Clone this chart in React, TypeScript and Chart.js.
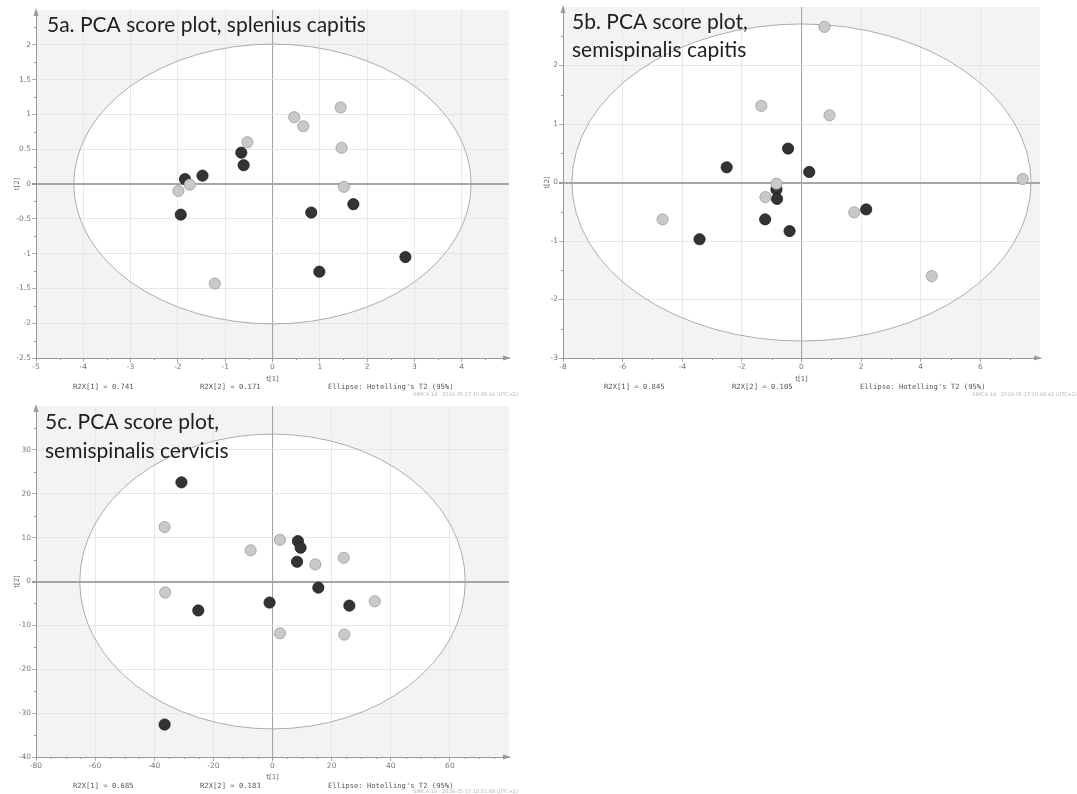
import React, { useEffect, useRef } from "react";
import { Chart, registerables } from "chart.js";
Chart.register(...registerables);

// ---------- 5a. splenius capitis ----------
const aGrayT1 = [1.44, 0.46, 0.65, -0.53, 1.46, 1.51, -1.75, -1.99, -1.22];
const aGrayT2 = [1.1, 0.96, 0.83, 0.6, 0.52, -0.04, -0.01, -0.1, -1.43];
const aDarkT1 = [-0.66, -0.61, -1.48, -1.85, -1.94, 0.82, 1.71, 2.81, 0.99];
const aDarkT2 = [0.45, 0.27, 0.12, 0.07, -0.44, -0.41, -0.29, -1.05, -1.26];
const aEllipse = [4.2, 2.01];
const aXTicks = [-5, 5, 1, 0.5]; // min, max, step, minor
const aYTicks = [-2.5, 2.5, 0.5, 0.25];
const aTitle = ["5a. PCA score plot, splenius capitis"];
const aNotes = ["R2X[1] = 0.741", "R2X[2] = 0.171", "Ellipse: Hotelling's T2 (95%)"];
const aStamp = "SIMCA 14 - 2016-05-17 10:38:16 (UTC+2)";

// ---------- 5b. semispinalis capitis ----------
const bGrayT1 = [0.77, -1.35, 0.94, -0.84, -1.21, -4.66, 1.77, 7.42, 4.37];
const bGrayT2 = [2.66, 1.31, 1.15, -0.02, -0.25, -0.63, -0.51, 0.06, -1.6];
const bDarkT1 = [-0.45, -2.51, 0.26, -0.84, -0.82, -1.22, -0.4, -3.42, 2.17];
const bDarkT2 = [0.58, 0.26, 0.18, -0.12, -0.28, -0.63, -0.83, -0.97, -0.46];
const bEllipse = [7.7, 2.71];
const bXTicks = [-8, 8, 2, 1];
const bYTicks = [-3, 3, 1, 0.5];
const bTitle = ["5b. PCA score plot,", "semispinalis capitis"];
const bNotes = ["R2X[1] = 0.845", "R2X[2] = 0.105", "Ellipse: Hotelling's T2 (95%)"];
const bStamp = "SIMCA 14 - 2016-05-17 10:48:42 (UTC+2)";

// ---------- 5c. semispinalis cervicis ----------
const cGrayT1 = [-36.5, 2.5, -7.4, 24.1, 14.5, -36.3, 34.6, 2.5, 24.3];
const cGrayT2 = [12.4, 9.5, 7.1, 5.4, 3.9, -2.5, -4.5, -11.8, -12.1];
const cDarkT1 = [-30.8, 8.6, 9.5, 8.3, 15.5, -1.0, 26.0, -25.1, -36.5];
const cDarkT2 = [22.6, 9.2, 7.7, 4.5, -1.4, -4.8, -5.5, -6.6, -32.6];
const cEllipse = [65.2, 33.6];
const cXTicks = [-80, 80, 20, 5];
const cYTicks = [-40, 40, 10, 5];
const cTitle = ["5c. PCA score plot,", "semispinalis cervicis"];
const cNotes = ["R2X[1] = 0.685", "R2X[2] = 0.183", "Ellipse: Hotelling's T2 (95%)"];
const cStamp = "SIMCA 14 - 2016-05-17 10:51:48 (UTC+2)";

type Panel = {
  left: number; top: number; w: number; h: number;
  area: { l: number; t: number; r: number; b: number };
  xt: number[]; yt: number[]; ellipse: number[];
  gx: number[]; gy: number[]; dx: number[]; dy: number[];
  title: string[]; titleX: number; titleY: number[];
  notes: string[]; noteX: number[]; noteY: number;
  stamp: string; stampR: number; stampY: number;
  xTitlePad: number; yTitlePad: number;
};

const panels: Panel[] = [
  {
    left: 0, top: 0, w: 537, h: 400, area: { l: 36, t: 10, r: 509, b: 358 },
    xt: aXTicks, yt: aYTicks, ellipse: aEllipse,
    gx: aGrayT1, gy: aGrayT2, dx: aDarkT1, dy: aDarkT2,
    title: aTitle, titleX: 47, titleY: [32],
    notes: aNotes, noteX: [73, 200, 328], noteY: 387,
    stamp: aStamp, stampR: 518, stampY: 395, xTitlePad: 16.5, yTitlePad: 12.5,
  },
  {
    left: 537, top: 0, w: 540, h: 400, area: { l: 26, t: 7, r: 503, b: 358 },
    xt: bXTicks, yt: bYTicks, ellipse: bEllipse,
    gx: bGrayT1, gy: bGrayT2, dx: bDarkT1, dy: bDarkT2,
    title: bTitle, titleX: 35, titleY: [29, 57],
    notes: bNotes, noteX: [67, 195, 323], noteY: 387,
    stamp: bStamp, stampR: 540, stampY: 395, xTitlePad: 16.5, yTitlePad: 5.5,
  },
  {
    left: 0, top: 395, w: 537, h: 399, area: { l: 36, t: 11, r: 509, b: 362 },
    xt: cXTicks, yt: cYTicks, ellipse: cEllipse,
    gx: cGrayT1, gy: cGrayT2, dx: cDarkT1, dy: cDarkT2,
    title: cTitle, titleX: 45, titleY: [34, 63],
    notes: cNotes, noteX: [73, 200, 328], noteY: 391,
    stamp: cStamp, stampR: 518, stampY: 397, xTitlePad: 12.5, yTitlePad: 12.5,
  },
];

const fmt = (v: number) => String(Math.round(v * 1000) / 1000);

function ScorePlot({ p }: { p: Panel }) {
  const ref = useRef<HTMLCanvasElement | null>(null);
  useEffect(() => {
    const canvas = ref.current;
    if (!canvas) return;
    const [xMin, xMax, xStep, xMinor] = p.xt;
    const [yMin, yMax, yStep, yMinor] = p.yt;

    const ellipsePath = (chart: any) => {
      const { ctx, scales } = chart;
      const x = scales.x, y = scales.y;
      const cx = x.getPixelForValue(0), cy = y.getPixelForValue(0);
      const rx = Math.abs(x.getPixelForValue(p.ellipse[0]) - cx);
      const ry = Math.abs(y.getPixelForValue(p.ellipse[1]) - cy);
      ctx.beginPath();
      ctx.ellipse(cx, cy, rx, ry, 0, 0, Math.PI * 2);
    };

    const plugin = {
      id: "pcaDecor",
      beforeDraw(chart: any) {
        const { ctx, chartArea: ca } = chart;
        ctx.save();
        ctx.fillStyle = "#f3f3f3";
        ctx.fillRect(ca.left, ca.top, ca.right - ca.left, ca.bottom - ca.top);
        ellipsePath(chart);
        ctx.fillStyle = "#ffffff";
        ctx.fill();
        ctx.restore();
      },
      beforeDatasetsDraw(chart: any) {
        const { ctx } = chart;
        ctx.save();
        ellipsePath(chart);
        ctx.strokeStyle = "#a4a4a4";
        ctx.lineWidth = 0.9;
        ctx.stroke();
        ctx.restore();
      },
      afterDraw(chart: any) {
        const { ctx, chartArea: ca, scales } = chart;
        const x = scales.x, y = scales.y;
        ctx.save();
        ctx.strokeStyle = "#999";
        ctx.lineWidth = 1;
        // minor ticks
        const eps = 1e-6;
        for (let v = xMin; v <= xMax + eps; v += xMinor) {
          const r = v / xStep;
          if (Math.abs(r - Math.round(r)) < eps) continue;
          const px = Math.round(x.getPixelForValue(v)) + 0.5;
          ctx.beginPath();
          ctx.moveTo(px, ca.bottom);
          ctx.lineTo(px, ca.bottom + 2);
          ctx.stroke();
        }
        for (let v = yMin; v <= yMax + eps; v += yMinor) {
          const r = v / yStep;
          if (Math.abs(r - Math.round(r)) < eps) continue;
          const py = Math.round(y.getPixelForValue(v)) + 0.5;
          ctx.beginPath();
          ctx.moveTo(ca.left - 2, py);
          ctx.lineTo(ca.left, py);
          ctx.stroke();
        }
        // arrowheads
        ctx.fillStyle = "#9a9a9a";
        ctx.beginPath();
        ctx.moveTo(ca.left, ca.top - 2);
        ctx.lineTo(ca.left - 2.5, ca.top + 6);
        ctx.lineTo(ca.left + 2.5, ca.top + 6);
        ctx.closePath();
        ctx.fill();
        ctx.beginPath();
        ctx.moveTo(ca.right + 2, ca.bottom);
        ctx.lineTo(ca.right - 6, ca.bottom - 2.5);
        ctx.lineTo(ca.right - 6, ca.bottom + 2.5);
        ctx.closePath();
        ctx.fill();
        // footnotes
        ctx.fillStyle = "#555";
        ctx.font = "7.2px 'DejaVu Sans Mono', 'Liberation Mono', monospace";
        ctx.textBaseline = "middle";
        ctx.textAlign = "left";
        p.notes.forEach((t, i) => ctx.fillText(t, p.noteX[i], p.noteY));
        ctx.fillStyle = "#b5b5b5";
        ctx.font = "5px 'DejaVu Sans', sans-serif";
        ctx.textAlign = "right";
        ctx.fillText(p.stamp, p.stampR, p.stampY);
        // title
        ctx.fillStyle = "#1e1e1e";
        ctx.font = "21px Lato, 'Open Sans', sans-serif";
        ctx.textAlign = "left";
        ctx.textBaseline = "alphabetic";
        p.title.forEach((t, i) => ctx.fillText(t, p.titleX, p.titleY[i]));
        ctx.restore();
      },
    };

    const gridColor = (max: number) => (c: any) => {
      const v = c.tick ? c.tick.value : null;
      if (v === 0) return "#a6a6a6";
      if (v !== null && Math.abs(v - max) < 1e-9) return "rgba(0,0,0,0)";
      return "#e2e2e2";
    };
    const tickColor = (max: number) => (c: any) => {
      const v = c.tick ? c.tick.value : null;
      if (v !== null && Math.abs(v - max) < 1e-9) return "rgba(0,0,0,0)";
      return "#999";
    };
    const tickFont = { size: 7.5, family: "'DejaVu Sans', sans-serif" };

    const point = (xs: number[], ys: number[]) => xs.map((v, i) => ({ x: v, y: ys[i] }));

    const chart = new Chart(canvas, {
      type: "scatter",
      data: {
        datasets: [
          {
            label: "group 1",
            data: point(p.gx, p.gy),
            backgroundColor: "#c9c9c9",
            borderColor: "#9c9c9c",
            borderWidth: 0.8,
            pointRadius: 5.6,
          },
          {
            label: "group 2",
            data: point(p.dx, p.dy),
            backgroundColor: "#333333",
            borderColor: "#1c1c1c",
            borderWidth: 0.8,
            pointRadius: 5.6,
          },
        ],
      },
      options: {
        animation: false,
        responsive: false,
        devicePixelRatio: 1,
        layout: {
          padding: { left: 0, top: p.area.t, right: p.w - p.area.r, bottom: 0 },
        },
        plugins: { legend: { display: false }, tooltip: { enabled: false } },
        scales: {
          x: {
            type: "linear",
            min: xMin,
            max: xMax,
            afterFit: (s: any) => { s.height = p.h - p.area.b; },
            ticks: {
              stepSize: xStep,
              autoSkip: false,
              maxRotation: 0,
              padding: 1,
              color: "#777",
              font: tickFont,
              callback: (v: any) => (Math.abs(v - xMax) < 1e-9 ? "" : fmt(v)),
            },
            grid: {
              color: gridColor(xMax),
              lineWidth: (c: any) => (c.tick && c.tick.value === 0 ? 1.1 : 0.8),
              tickLength: 4,
              tickColor: tickColor(xMax),
            },
            border: { display: true, color: "#999", width: 1 },
            title: {
              display: true,
              text: "t[1]",
              color: "#666",
              font: { size: 7, family: "'DejaVu Sans', sans-serif" },
              padding: { top: 0, bottom: p.xTitlePad },
            },
          },
          y: {
            type: "linear",
            min: yMin,
            max: yMax,
            afterFit: (s: any) => { s.width = p.area.l; },
            ticks: {
              stepSize: yStep,
              autoSkip: false,
              padding: 1,
              color: "#777",
              font: tickFont,
              callback: (v: any) => (Math.abs(v - yMax) < 1e-9 ? "" : fmt(v)),
            },
            grid: {
              color: gridColor(yMax),
              lineWidth: (c: any) => (c.tick && c.tick.value === 0 ? 2 : 0.8),
              tickLength: 4,
              tickColor: tickColor(yMax),
            },
            border: { display: true, color: "#999", width: 1 },
            title: {
              display: true,
              text: "t[2]",
              color: "#666",
              font: { size: 7, family: "'DejaVu Sans', sans-serif" },
              padding: { top: p.yTitlePad, bottom: 0 },
            },
          },
        },
      },
      plugins: [plugin],
    } as any);
    return () => chart.destroy();
  }, [p]);

  return (
    <canvas
      ref={ref}
      width={p.w}
      height={p.h}
      style={{ position: "absolute", left: p.left, top: p.top, width: p.w, height: p.h }}
    />
  );
}

export default function App() {
  return (
    <div style={{ position: "absolute", left: 0, top: 0, width: 1077, height: 794, background: "#fff", overflow: "hidden" }}>
      {panels.map((p, i) => (
        <ScorePlot key={i} p={p} />
      ))}
    </div>
  );
}
